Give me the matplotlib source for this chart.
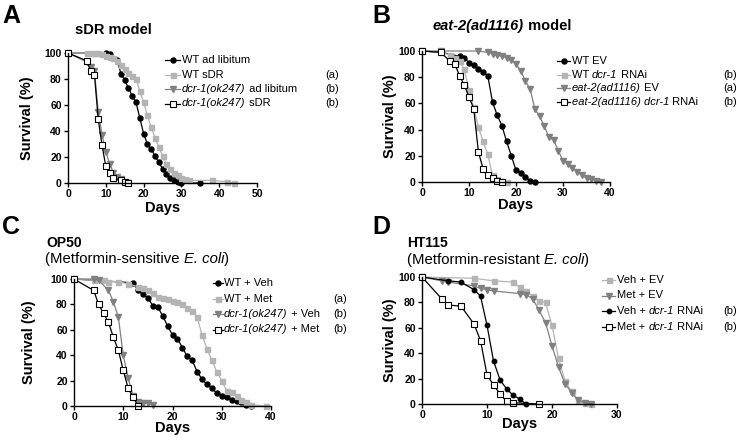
import matplotlib
matplotlib.use('Agg')
import matplotlib.pyplot as plt
from matplotlib.lines import Line2D

plt.rcParams['font.family'] = 'Liberation Sans'

# ---- panel A: sDR model ----
a_wt_al_days = [0, 10, 11, 13, 14, 15, 16, 17, 18, 19, 20, 21, 22, 23, 24, 25, 26, 27, 28, 29, 30, 35]
a_wt_al_vals = [100, 100, 99, 95, 84, 79, 73, 67, 62, 50, 38, 30, 26, 21, 16, 11, 7, 4, 2, 1, 0, 0]
a_wt_sdr_days = [0, 5, 6, 7, 8, 9, 10, 11, 12, 13, 14, 15, 16, 17, 18, 19, 20, 21, 22, 23, 24, 25, 26, 27, 28, 29, 30, 31, 32, 38, 42, 44]
a_wt_sdr_vals = [100, 100, 100, 100, 100, 99, 98, 97, 96, 94, 91, 88, 85, 82, 80, 71, 62, 52, 43, 35, 28, 21, 15, 11, 8, 6, 4, 3, 2, 2, 1, 0]
a_dcr_al_days = [0, 5, 6, 7, 8, 9, 10, 11, 12, 13, 14, 15, 16]
a_dcr_al_vals = [100, 93, 89, 86, 55, 37, 24, 15, 8, 5, 3, 1, 0]
a_dcr_sdr_days = [0, 5, 6, 7, 8, 9, 10, 11, 12, 14, 15, 16]
a_dcr_sdr_vals = [100, 94, 86, 83, 49, 29, 13, 8, 4, 2, 1, 0]

# ---- panel B: eat-2 model ----
b_wt_ev_days = [0, 4, 8, 9, 10, 11, 12, 13, 14, 15, 16, 17, 18, 19, 20, 21, 22, 23, 24]
b_wt_ev_vals = [100, 99, 96, 95, 91, 89, 86, 84, 81, 61, 51, 43, 31, 20, 9, 7, 4, 1, 0]
b_wt_dcr_days = [0, 4, 6, 7, 8, 9, 10, 11, 12, 13, 14, 15, 16, 17, 18]
b_wt_dcr_vals = [100, 99, 97, 95, 92, 86, 70, 57, 42, 31, 21, 5, 2, 1, 0]
b_eat_ev_days = [0, 4, 12, 14, 15, 16, 17, 18, 19, 20, 21, 22, 23, 24, 25, 26, 27, 28, 29, 30, 31, 32, 33, 34, 35, 36, 37, 38]
b_eat_ev_vals = [100, 100, 100, 99, 98, 97, 96, 95, 93, 90, 85, 77, 71, 56, 50, 43, 34, 32, 24, 16, 14, 11, 8, 5, 3, 2, 1, 0]
b_eat_dcr_days = [0, 4, 6, 7, 8, 9, 10, 11, 12, 13, 14, 15, 16, 17]
b_eat_dcr_vals = [100, 99, 92, 90, 81, 74, 65, 56, 23, 10, 5, 3, 1, 0]

# ---- panel C: OP50 ----
c_wt_veh_days = [0, 12, 13, 14, 15, 16, 17, 18, 19, 20, 21, 22, 23, 24, 25, 26, 27, 28, 29, 30, 31, 32, 33, 34, 35, 36]
c_wt_veh_vals = [100, 97, 91, 88, 85, 79, 78, 71, 63, 56, 53, 46, 39, 36, 27, 21, 17, 14, 10, 8, 7, 5, 4, 3, 1, 0]
c_wt_met_days = [0, 4, 6, 7, 9, 11, 13, 14, 15, 16, 17, 18, 19, 20, 21, 22, 23, 24, 25, 26, 27, 28, 29, 30, 31, 32, 33, 34, 35, 36, 39]
c_wt_met_vals = [100, 99, 99, 98, 98, 96, 94, 93, 91, 89, 86, 85, 84, 83, 82, 80, 77, 75, 70, 56, 45, 36, 27, 20, 12, 11, 8, 5, 3, 1, 0]
c_dcr_veh_days = [0, 4, 5, 7, 8, 9, 10, 11, 12, 13, 14, 15, 16]
c_dcr_veh_vals = [100, 100, 99, 91, 82, 70, 40, 22, 8, 3, 2, 2, 1]
c_dcr_met_days = [0, 4, 5, 6, 7, 8, 9, 10, 11, 12, 13]
c_dcr_met_vals = [100, 91, 80, 73, 66, 54, 44, 28, 14, 7, 0]

# ---- panel D: HT115 ----
d_veh_ev_days = [0, 8, 11, 14, 15, 16, 17, 18, 19, 20, 21, 22, 23, 24, 25, 26]
d_veh_ev_vals = [100, 99, 97, 96, 92, 89, 85, 81, 80, 62, 36, 18, 10, 3, 1, 0]
d_met_ev_days = [0, 3, 4, 8, 9, 10, 11, 15, 16, 17, 18, 19, 20, 21, 22, 23, 24, 25, 26]
d_met_ev_vals = [100, 97, 96, 93, 91, 90, 89, 87, 86, 83, 74, 64, 46, 29, 16, 9, 3, 1, 0]
d_veh_dcr_days = [0, 4, 6, 8, 9, 10, 11, 12, 13, 14, 15, 16]
d_veh_dcr_vals = [100, 97, 96, 90, 85, 62, 34, 19, 12, 7, 4, 0]
d_met_dcr_days = [0, 3, 4, 6, 8, 9, 10, 11, 12, 13, 14, 18]
d_met_dcr_vals = [100, 83, 78, 77, 63, 50, 23, 15, 8, 2, 1, 0]

W, H = 738, 441
fig = plt.figure(figsize=(7.38, 4.41), dpi=100)
rend = fig.canvas.get_renderer()

# marker styles
circ = dict(color='black', marker='o', markersize=3.6, markerfacecolor='black', markeredgecolor='black')
circ_s = dict(circ, markersize=3.2)
gsq = dict(color='#b4b4b4', marker='s', markersize=3.6, markerfacecolor='#b4b4b4', markeredgecolor='#b4b4b4')
gtri = dict(color='#808080', marker='v', markersize=4.2, markerfacecolor='#808080', markeredgecolor='#808080')
osq = dict(color='black', marker='s', markersize=5, markerfacecolor='white', markeredgecolor='black',
           markeredgewidth=0.8)


def rich(x, y, parts, size):
    # text pieces one after another, pixel coords with y from the top
    xp = x
    for txt, weight, style in parts:
        t = fig.text(xp / W, 1 - y / H, txt, fontsize=size, fontweight=weight,
                     style=style, va='center', ha='left')
        xp += t.get_window_extent(rend).width


def it(s):
    return (s, 'normal', 'italic')


def rm(s):
    return (s, 'normal', 'normal')


def key(x0, x1, tx, rows, note_x):
    # legend drawn by hand so labels can mix italic and upright text
    for y, st, parts, note in rows:
        yy = 1 - y / H
        fig.add_artist(Line2D([x0 / W, x1 / W], [yy, yy], color=st['color'], lw=0.9,
                              transform=fig.transFigure))
        fig.add_artist(Line2D([(x0 + x1) / 2 / W], [yy], linestyle='none',
                              transform=fig.transFigure, **st))
        rich(tx, y, parts, 8)
        if note:
            fig.text(note_x / W, yy, note, fontsize=8, va='center')


def panel(box, xmax, series, ylab_x, xlab_y):
    x0, x1, yt, yb = box
    ax = fig.add_axes([x0 / W, 1 - yb / H, (x1 - x0) / W, (yb - yt) / H])
    for days, vals, st in series:
        ax.plot(days, vals, lw=0.9, clip_on=False, **st)
    ax.set_xlim(0, xmax)
    ax.set_ylim(0, 100)
    ax.set_xticks(range(0, xmax + 1, 10))
    ax.set_yticks(range(0, 101, 20))
    ax.spines['top'].set_visible(False)
    ax.spines['right'].set_visible(False)
    ax.spines['left'].set_linewidth(1)
    ax.spines['bottom'].set_linewidth(1)
    ax.tick_params(direction='out', length=3, width=1, labelsize=7.5, pad=1.5)
    for lab in ax.get_xticklabels() + ax.get_yticklabels():
        lab.set_fontweight('bold')
    ax.set_ylabel('Survival (%)', fontsize=10.5, fontweight='bold', va='center')
    ax.yaxis.set_label_coords((ylab_x - x0) / (x1 - x0), 0.5)
    ax.set_xlabel('Days', fontsize=10.5, fontweight='bold', va='center')
    ax.xaxis.set_label_coords(0.5, (yb - xlab_y) / (yb - yt))
    return ax


panel((68, 257, 53, 183), 50,
      [(a_wt_al_days, a_wt_al_vals, circ),
       (a_wt_sdr_days, a_wt_sdr_vals, gsq),
       (a_dcr_al_days, a_dcr_al_vals, gtri),
       (a_dcr_sdr_days, a_dcr_sdr_vals, osq)], 27, 208)
key(165, 180, 182,
    [(60, circ, [rm('WT ad libitum')], None),
     (74.5, gsq, [rm('WT sDR')], '(a)'),
     (89, gtri, [it('dcr-1(ok247)'), rm(' ad libitum')], '(b)'),
     (103.5, osq, [it('dcr-1(ok247)'), rm(' sDR')], '(b)')], 325)

panel((422, 610, 51, 182), 40,
      [(b_wt_ev_days, b_wt_ev_vals, circ),
       (b_wt_dcr_days, b_wt_dcr_vals, gsq),
       (b_eat_ev_days, b_eat_ev_vals, gtri),
       (b_eat_dcr_days, b_eat_dcr_vals, osq)], 390, 205)
key(557, 570, 572,
    [(61, circ, [rm('WT EV')], None),
     (74.7, gsq, [rm('WT '), it('dcr-1'), rm(' RNAi')], '(b)'),
     (88.4, gtri, [it('eat-2(ad1116)'), rm(' EV')], '(a)'),
     (102, osq, [it('eat-2(ad1116) dcr-1'), rm(' RNAi')], '(b)')], 723)

panel((74, 271, 279, 406), 40,
      [(c_wt_veh_days, c_wt_veh_vals, circ),
       (c_wt_met_days, c_wt_met_vals, gsq),
       (c_dcr_veh_days, c_dcr_veh_vals, gtri),
       (c_dcr_met_days, c_dcr_met_vals, osq)], 29, 428)
key(213, 223, 224,
    [(283, circ, [rm('WT + Veh')], None),
     (298.5, gsq, [rm('WT + Met')], '(a)'),
     (314, gtri, [it('dcr-1(ok247)'), rm(' + Veh')], '(b)'),
     (329.5, osq, [it('dcr-1(ok247)'), rm(' + Met')], '(b)')], 333)

panel((422, 617, 277, 404), 30,
      [(d_veh_ev_days, d_veh_ev_vals, gsq),
       (d_met_ev_days, d_met_ev_vals, gtri),
       (d_veh_dcr_days, d_veh_dcr_vals, circ_s),
       (d_met_dcr_days, d_met_dcr_vals, osq)], 390, 424)
key(602, 615, 617,
    [(280, gsq, [rm('Veh + EV')], None),
     (295.5, gtri, [rm('Met + EV')], None),
     (311, circ_s, [rm('Veh + '), it('dcr-1'), rm(' RNAi')], '(b)'),
     (326.5, osq, [rm('Met + '), it('dcr-1'), rm(' RNAi')], '(b)')], 723)

# titles
rich(75, 30, [('sDR model', 'bold', 'normal')], 10.5)
rich(433, 26, [('eat-2(ad1116)', 'bold', 'italic'), (' model', 'bold', 'normal')], 10.5)
rich(46, 243, [('OP50', 'bold', 'normal')], 10)
rich(45, 259, [rm('(Metformin-sensitive '), it('E. coli'), rm(')')], 10.7)
rich(407, 243, [('HT115', 'bold', 'normal')], 10)
rich(407, 260, [rm('(Metformin-resistant '), it('E. coli'), rm(')')], 10.7)

# panel letters
for letter, lx, ly in [('A', 2, 16), ('B', 372, 16), ('C', 2, 227), ('D', 372, 227)]:
    fig.text(lx / W, 1 - ly / H, letter, fontsize=18, fontweight='bold', va='center')

fig.savefig('out.png', dpi=100)
